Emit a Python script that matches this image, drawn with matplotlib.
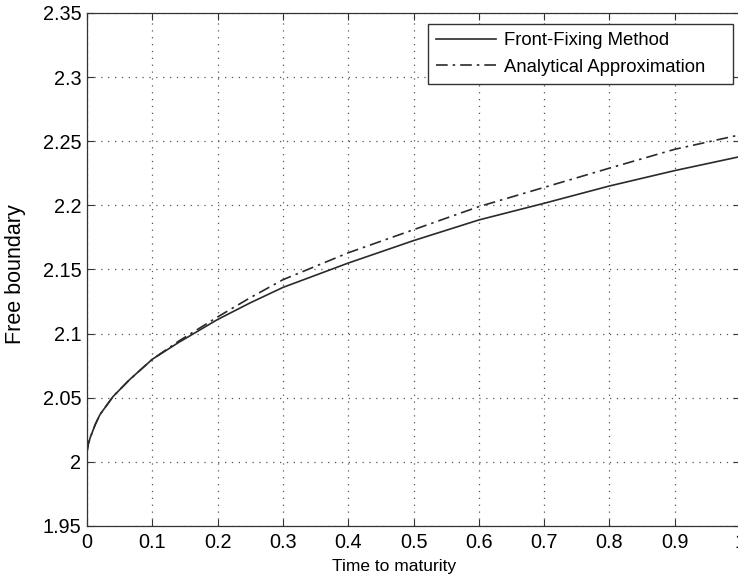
import matplotlib
matplotlib.use("Agg")
import matplotlib.pyplot as plt

# time to maturity and the two free-boundary curves
t = [0, 0.002, 0.005, 0.0125, 0.02, 0.04, 0.065, 0.1, 0.14, 0.2, 0.25,
     0.3, 0.4, 0.5, 0.6, 0.7, 0.8, 0.9, 1.0]
front_fixing = [2.008, 2.014, 2.019, 2.029, 2.037, 2.051, 2.064, 2.080,
                2.093, 2.111, 2.124, 2.136, 2.155, 2.1725, 2.1886, 2.2016,
                2.2151, 2.2271, 2.238]
analytical = [2.008, 2.014, 2.019, 2.029, 2.037, 2.051, 2.064, 2.080,
              2.094, 2.113, 2.128, 2.142, 2.163, 2.181, 2.199, 2.214,
              2.229, 2.2437, 2.255]

xticks = [0, 0.1, 0.2, 0.3, 0.4, 0.5, 0.6, 0.7, 0.8, 0.9, 1]
xticklabels = ["0", "0.1", "0.2", "0.3", "0.4", "0.5", "0.6", "0.7",
               "0.8", "0.9", "1"]
yticks = [1.95, 2.0, 2.05, 2.1, 2.15, 2.2, 2.25, 2.3, 2.35]
yticklabels = ["1.95", "2", "2.05", "2.1", "2.15", "2.2", "2.25", "2.3",
               "2.35"]

plt.rcParams["font.family"] = ["Liberation Sans", "DejaVu Sans"]

fig = plt.figure(figsize=(7.38, 5.85), dpi=100)
ax = fig.add_axes([0.1179, 0.1009, 0.8848, 0.8769])

ax.plot(t, front_fixing, color="#2a2a2a", linewidth=1.2, linestyle="-",
        label="Front-Fixing Method")
ax.plot(t, analytical, color="#2a2a2a", linewidth=1.2,
        linestyle=(0, (7, 3, 1.5, 3)), label="Analytical Approximation")

ax.set_xlim(0, 1)
ax.set_ylim(1.95, 2.35)
ax.set_xticks(xticks)
ax.set_xticklabels(xticklabels)
ax.set_yticks(yticks)
ax.set_yticklabels(yticklabels)
ax.tick_params(direction="in", length=5, width=0.8, top=True, right=True,
               labelsize=14.3, color="#333333")
ax.tick_params(axis="x", pad=5)
ax.tick_params(axis="y", pad=4)

ax.grid(True, linestyle=(0, (1, 4.5)), linewidth=0.9, color="#555555")
for sp in ax.spines.values():
    sp.set_linewidth(0.9)
    sp.set_color("#333333")

ax.set_xlabel("Time to maturity", fontsize=12.5)
ax.xaxis.set_label_coords(0.47, -0.064)
ax.set_ylabel("Free boundary", fontsize=15.5)
ax.yaxis.set_label_coords(-0.093, 0.49)

leg = ax.legend(loc="upper left", bbox_to_anchor=(0.522, 0.8596, 0.467, 0.119),
                mode="expand", borderaxespad=0, fontsize=13.3, fancybox=False,
                framealpha=1, edgecolor="#333333", handlelength=3.25,
                handletextpad=0.4, labelspacing=0.5, borderpad=0.45)
leg.get_frame().set_linewidth(1.0)

fig.savefig("out.png", dpi=100)
